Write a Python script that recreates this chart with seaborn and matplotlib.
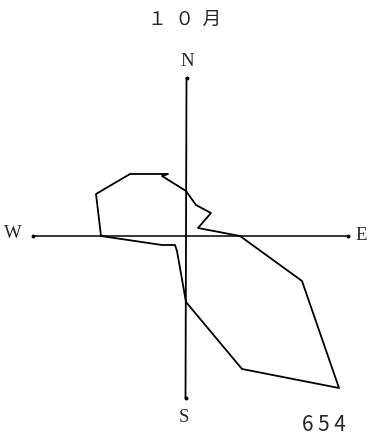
import numpy as np
import pandas as pd
import matplotlib
matplotlib.use("Agg")
import matplotlib.pyplot as plt
import seaborn as sns

# 10月 の閉じた折れ線 (東・北成分, 任意単位)
east = [0.0, 1.0, 2.5, 1.2, 5.4, 11.6, 15.3, 5.6, 0.0, -0.9, -1.1, -2.4, -8.5, -9.0, -5.6, -1.8, -2.4]
north = [4.5, 3.1, 2.3, 0.8, 0.0, -4.5, -15.2, -13.3, -6.6, -1.5, -0.9, -0.9, 0.0, 4.2, 6.2, 6.2, 6.0]

# 方位軸の長さ
arm_n, arm_s, arm_w, arm_e = 15.8, 16.2, 15.3, 16.2
compass = ["N", "S", "W", "E"]

title = "１  ０  月"
page_no = "6 5 4"

sns.set_theme(style="white")
plt.rcParams['font.family'] = ['Noto Sans CJK JP', 'DejaVu Sans']

df = pd.DataFrame({"east": east + east[:1], "north": north + north[:1]})
df["order"] = np.arange(len(df))

fig = plt.figure(figsize=(3.70, 4.41), dpi=100)
ax = fig.add_axes([0, 0, 1, 1])

# 軸線
ax.plot([0.05, -0.05], [arm_n, -arm_s], color="black", lw=1.3, zorder=1)
ax.plot([-arm_w, arm_e], [0, 0], color="black", lw=1.1, zorder=1)
ax.plot([0.05, -0.05, -arm_w, arm_e], [arm_n, -arm_s, 0, 0], ls="none",
        marker="o", ms=1.8, color="black")

sns.lineplot(data=df, x="east", y="north", sort=False, estimator=None,
             color="black", linewidth=1.3, ax=ax, zorder=2)

serif = ['Liberation Serif', 'DejaVu Serif']
ax.text(0.1, 17.5, compass[0], ha="center", va="center", fontsize=13.5, family=serif)
ax.text(-0.2, -18.2, compass[1], ha="center", va="center", fontsize=13.5, family=serif)
ax.text(-17.3, 0.2, compass[2], ha="center", va="center", fontsize=13.5, family=serif)
ax.text(17.5, 0.0, compass[3], ha="center", va="center", fontsize=13.5, family=serif)

ax.set_xlim(-18.6, 18.4)
ax.set_ylim(-20.5, 23.6)
ax.axis("off")

fig.text(185 / 370, 1 - 19 / 441, title, ha="center", va="center", fontsize=13.5)
fig.text(324 / 370, 1 - 425 / 441, page_no, ha="center", va="center", fontsize=15)

fig.savefig("out.png", dpi=100, facecolor="white")
